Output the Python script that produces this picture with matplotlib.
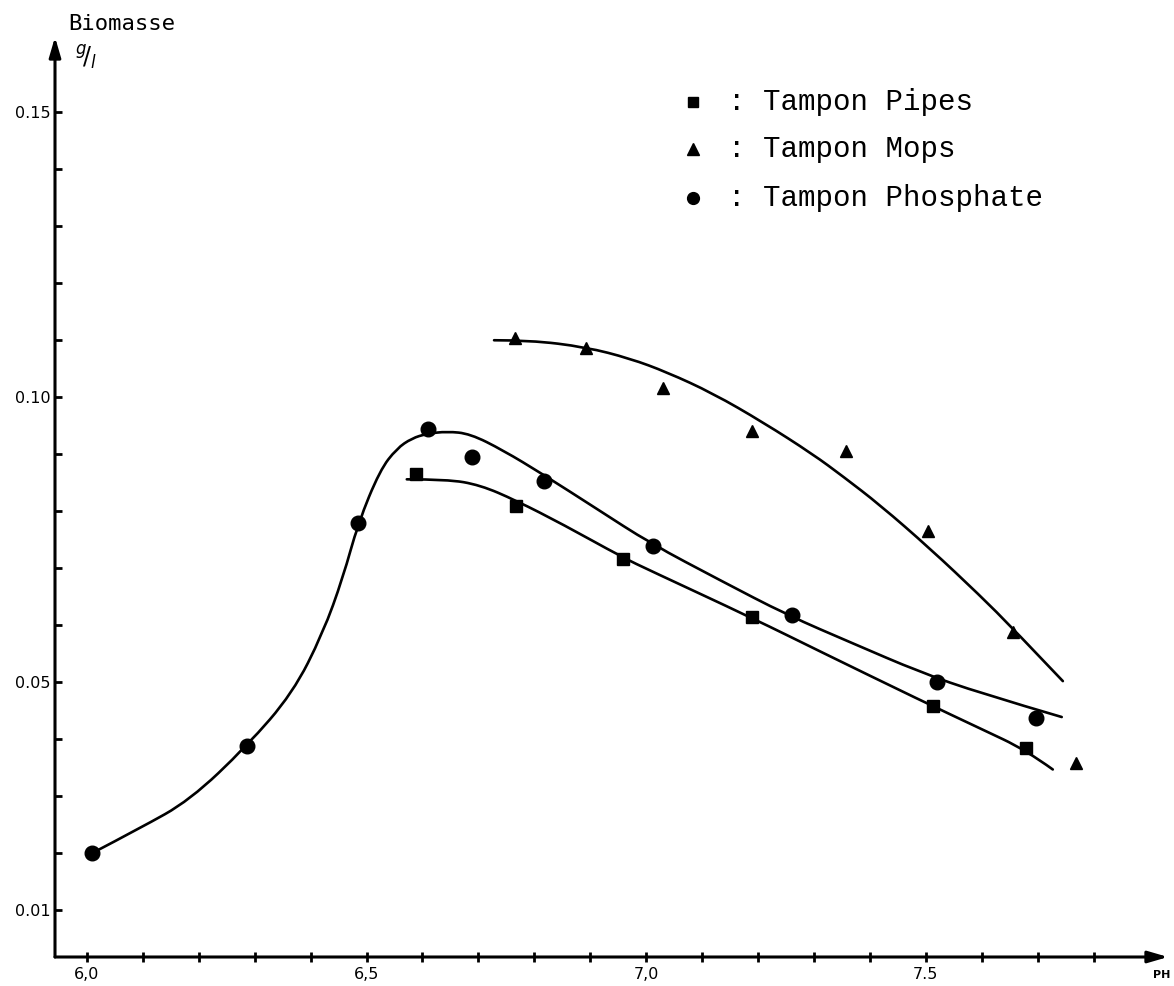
import numpy as np
import matplotlib
matplotlib.use("Agg")
import matplotlib.pyplot as plt
from matplotlib.path import Path
from matplotlib.patches import PathPatch

# mesures : biomasse (g/l) en fonction du pH pour trois tampons
ph_pipes = [6.588, 6.767, 6.958, 7.190, 7.513, 7.679]
bio_pipes = [0.0865, 0.0809, 0.0716, 0.0614, 0.0458, 0.0384]

ph_mops = [6.765, 6.892, 7.030, 7.190, 7.357, 7.504, 7.656, 7.768]
bio_mops = [0.1104, 0.1086, 0.1016, 0.0940, 0.0905, 0.0765, 0.0589, 0.0358]

ph_phos = [6.009, 6.286, 6.485, 6.610, 6.688, 6.817, 7.012, 7.260, 7.520, 7.697]
bio_phos = [0.0200, 0.0388, 0.0779, 0.0944, 0.0896, 0.0853, 0.0739, 0.0618, 0.0500, 0.0437]

# courbes tracées à la main à travers les points
curve_phos_x = [6.009, 6.095, 6.184, 6.286, 6.368, 6.422, 6.458, 6.485, 6.524, 6.554,
                6.581, 6.608, 6.644, 6.685, 6.744, 6.815, 6.912, 7.007, 7.132, 7.252,
                7.370, 7.489, 7.597, 7.743]
curve_phos_y = [0.0200, 0.0244, 0.0293, 0.0388, 0.0481, 0.0586, 0.0684, 0.0779, 0.0872, 0.0910,
                0.0928, 0.0936, 0.0940, 0.0936, 0.0907, 0.0865, 0.0804, 0.0744, 0.0679, 0.0618,
                0.0568, 0.0518, 0.0481, 0.0439]

curve_pipes_x = [6.572, 6.644, 6.703, 6.767, 6.851, 6.958, 7.007, 7.191, 7.311, 7.489,
                 7.597, 7.679, 7.727]
curve_pipes_y = [0.0856, 0.0856, 0.0846, 0.0819, 0.0777, 0.0719, 0.0696, 0.0612, 0.0554, 0.0469,
                 0.0419, 0.0381, 0.0347]

curve_mops_x = [6.728, 6.792, 6.892, 6.971, 7.037, 7.119, 7.209, 7.298, 7.352, 7.418,
                7.507, 7.597, 7.656, 7.745]
curve_mops_y = [0.1100, 0.1100, 0.1088, 0.1068, 0.1044, 0.1007, 0.0956, 0.0900, 0.0861, 0.0811,
                0.0735, 0.0652, 0.0594, 0.0502]

x_ticks = np.round(np.arange(6.0, 7.81, 0.1), 2)
x_labels = {6.0: "6,0", 6.5: "6,5", 7.0: "7,0", 7.5: "7.5"}
y_ticks = np.round(np.arange(0.01, 0.151, 0.01), 3)
y_labels = {0.01: "0.01", 0.05: "0.05", 0.10: "0.10", 0.15: "0.15"}

legend_labels = ["Tampon Pipes", "Tampon Mops", "Tampon Phosphate"]


def smooth_curve(ax, xs, ys, **kw):
    # courbe de Bézier quadratique passant par les milieux des points relevés
    pts = list(zip(xs, ys))
    verts = [pts[0]]
    codes = [Path.MOVETO]
    for i in range(1, len(pts) - 1):
        mid = ((pts[i][0] + pts[i + 1][0]) / 2, (pts[i][1] + pts[i + 1][1]) / 2)
        if i == len(pts) - 2:
            mid = pts[-1]
        verts += [pts[i], mid]
        codes += [Path.CURVE3, Path.CURVE3]
    ax.add_patch(PathPatch(Path(verts, codes), fill=False, **kw))


W, H = 1174, 986
fig = plt.figure(figsize=(W / 100, H / 100), dpi=100)
ax = fig.add_axes([55 / W, 1 - 957 / H, (1168 - 55) / W, (957 - 37) / H])
ax.set_xlim(5.943, 7.933)
ax.set_ylim(0.0018, 0.1632)

lw = 1.9
for cx, cy in [(curve_phos_x, curve_phos_y), (curve_pipes_x, curve_pipes_y),
               (curve_mops_x, curve_mops_y)]:
    smooth_curve(ax, cx, cy, edgecolor="black", lw=lw, capstyle="round")

ax.plot(ph_phos, bio_phos, "o", color="black", ms=10.5, ls="none")
ax.plot(ph_pipes, bio_pipes, "s", color="black", ms=8.5, ls="none")
ax.plot(ph_mops, bio_mops, "^", color="black", ms=9, ls="none")

# axes en flèche
for s in ax.spines.values():
    s.set_visible(False)
arrow = dict(arrowstyle="-|>,head_length=1.2,head_width=0.35", lw=2.2, color="black",
             shrinkA=0, shrinkB=0)
ax.annotate("", xy=(0, 1), xytext=(0, 0), xycoords="axes fraction", arrowprops=arrow)
ax.annotate("", xy=(1, 0), xytext=(0, 0), xycoords="axes fraction", arrowprops=arrow)

ax.set_xticks(x_ticks)
ax.set_xticklabels([x_labels.get(float(t), "") for t in x_ticks])
ax.set_yticks(y_ticks)
ax.set_yticklabels([y_labels.get(float(t), "") for t in y_ticks])
ax.tick_params(axis="x", direction="inout", length=7, width=2, pad=4, labelsize=11.5)
ax.tick_params(axis="y", direction="in", length=5, width=2, pad=3, labelsize=11.5)
ax.patch.set_visible(False)

fig.text(122 / W, 1 - 24 / H, "Biomasse", family="DejaVu Sans Mono", fontsize=16,
         ha="center", va="center")
fig.text(86 / W, 1 - 58 / H, r"$^{g}\!/_{l}$", fontsize=17, ha="center", va="center")
fig.text(1162 / W, 1 - 975 / H, "PH", fontsize=8, fontweight="bold", ha="center", va="center")

# légende
rows = [102, 149, 198]
for marker, ms, label, py in zip(["s", "^", "o"], [7, 8, 8.5], legend_labels, rows):
    fig.lines.append(plt.Line2D([693 / W], [1 - py / H], marker=marker, ms=ms, color="black",
                                ls="none", transform=fig.transFigure))
    fig.text(728 / W, 1 - py / H, ": " + label, family="Liberation Mono", fontsize=21,
             ha="left", va="center")

fig.savefig("out.png", dpi=100)
